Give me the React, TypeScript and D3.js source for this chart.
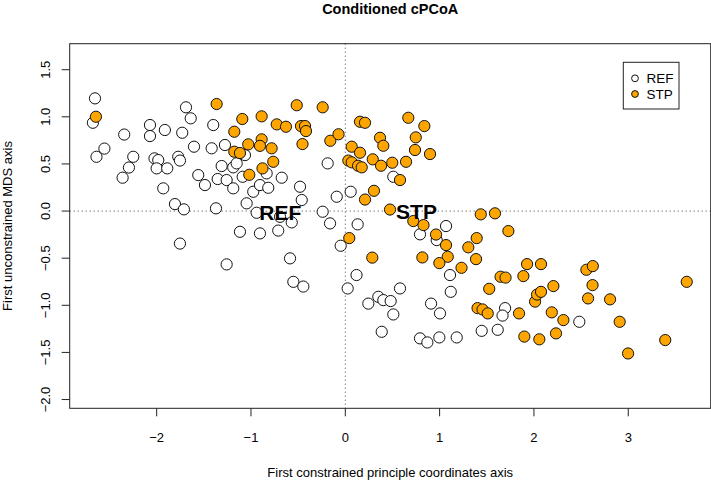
import React from 'react';
import * as d3 from 'd3';

// REF group (open circles)
const refX = [-2.654, -2.676, -2.638, -2.554, -2.344, -2.361, -2.294, -2.248, -2.071, -2.071,
  -1.913, -2.023, -1.983, -2.0, -1.888, -1.93, -1.806, -1.711, -1.771, -1.753,
  -1.729, -1.689, -1.639, -1.604, -1.559, -1.488, -1.371, -1.4, -1.417, -1.353,
  -1.311, -1.276, -1.258, -1.188, -1.188, -1.753, -1.258, -1.152, -1.088, -1.064,
  -1.117, -1.046, -0.976, -0.905, -0.817, -0.834, -0.674, -0.48, -0.462, -0.94,
  -0.692, -0.568, -0.905, -0.711, -0.586, -0.551, -0.445, -0.24, -0.162, -0.091,
  -0.187, -0.049, 0.025, 0.057, 0.131, 0.119, 0.509, 0.244, 0.35, 0.403,
  0.481, 0.509, 0.386, 0.58, 0.792, 1.068, 0.969, 1.11, 1.118, 0.909,
  1.004, 0.792, 0.87, 0.997, 1.181, 1.446, 1.616, 1.694, 1.667, 2.481];
const refY = [1.196, 0.937, 0.576, 0.663, 0.812, 0.354, 0.462, 0.576, 0.913, 0.796,
  0.86, 0.559, 0.541, 0.453, 0.453, 0.241, 0.074, 0.018, 0.576, 0.536,
  0.831, 1.101, 0.984, 0.683, 0.382, 0.276, 0.029, 0.913, 0.666, 0.34,
  0.478, 0.701, 0.329, 0.464, 0.241, -0.345, -0.566, 0.506, 0.364, 0.594,
  -0.22, 0.082, 0.205, 0.276, 0.247, 0.4, 0.354, 0.258, 0.117, -0.018,
  -0.061, -0.12, -0.237, -0.207, -0.502, -0.751, -0.801, -0.007, -0.131, 0.152,
  0.506, -0.368, -0.821, 0.205, -0.141, -0.679, 0.364, -0.982, -0.91, -0.945,
  -0.955, -1.097, -1.281, -0.821, -0.247, -0.159, -0.308, -0.679, -0.857, -0.982,
  -1.086, -1.351, -1.394, -1.341, -1.341, -1.271, -1.26, -1.03, -1.109, -1.175];

// STP group (orange circles)
const stpX = [-2.644, -1.364, -1.177, -1.092, -0.887, -0.727, -0.629, -0.515, -0.24, -0.47,
  -0.427, -0.417, -0.454, -0.159, -0.072, -0.887, -0.905, -1.029, -0.781, -1.177,
  -1.117, -0.764, -0.878, -1.018, 0.068, 0.032, 0.068, 0.156, 0.135, 0.209,
  0.668, 0.838, 0.368, 0.403, 0.747, 0.739, 0.898, 0.156, 0.174, 0.291,
  0.379, 0.498, 0.644, 0.58, 0.304, 0.209, 0.474, 0.721, 0.829, 0.962,
  1.068, 0.042, 0.286, 0.817, 1.086, 0.997, 1.232, 1.304, 1.393, 1.386,
  1.436, 1.587, 1.729, 1.927, 2.075, 1.646, 1.699, 1.888, 1.526, 2.206,
  2.012, 2.033, 2.075, 1.402, 1.455, 1.51, 1.842, 2.189, 2.312, 1.898,
  2.057, 2.234, 2.556, 2.624, 2.621, 2.574, 2.807, 2.909, 2.998, 3.392, 3.62];
const stpY = [1.001, 1.136, 0.842, 0.977, 1.005, 0.92, 0.895, 1.123, 1.101, 0.902,
  0.902, 0.849, 0.711, 0.746, 0.815, 0.761, 0.692, 0.708, 0.666, 0.63,
  0.616, 0.523, 0.453, 0.385, 0.683, 0.536, 0.517, 0.948, 0.481, 0.937,
  0.99, 0.902, 0.778, 0.693, 0.782, 0.648, 0.605, 0.619, 0.464, 0.549,
  0.481, 0.513, 0.523, 0.329, 0.215, 0.122, 0.016, -0.106, -0.149, -0.249,
  -0.361, -0.287, -0.494, -0.492, -0.485, -0.552, -0.602, -0.385, -0.287, -0.51,
  -0.035, -0.024, -0.212, -0.563, -0.563, -0.697, -0.706, -0.69, -0.825, -0.796,
  -0.961, -0.886, -0.857, -1.03, -1.044, -1.086, -1.086, -1.075, -1.157, -1.332,
  -1.361, -1.298, -0.623, -0.584, -0.786, -0.927, -0.937, -1.175, -1.511, -1.369, -0.751];

const groupNames = ['REF', 'STP'];
const groupFill = ['white', '#FFA500'];
const centroidX = [-0.69, 0.755];
const centroidY = [-0.01, 0.0];

const xTicks = [-2, -1, 0, 1, 2, 3];
const yTicks = [-2, -1.5, -1, -0.5, 0, 0.5, 1, 1.5];

const W = 711;
const H = 481;
const font = 'Liberation Sans, Arial, Helvetica, sans-serif';

const fmt = (v: number, digits: number) => v.toFixed(digits).replace('-', '\u2212');

export default function App() {
  const left = 69.7, right = 710.7, top = 43.7, bottom = 408.3;
  const x = d3.scaleLinear().domain([-2.922, 3.874]).range([left, right]);
  const y = d3.scaleLinear().domain([-2.093, 1.776]).range([bottom, top]);

  const ref = refX.map((v, i) => [v, refY[i]]);
  const stp = stpX.map((v, i) => [v, stpY[i]]);
  const midX = (left + right) / 2;
  const midY = (top + bottom) / 2;

  return (
    <svg width={W} height={H} style={{ position: 'absolute', left: 0, top: 0, background: 'white' }}
      fontFamily={font}>
      <text x={midX} y={14} textAnchor="middle" fontWeight="bold" fontSize={14.5}>Conditioned cPCoA</text>

      {/* zero lines */}
      <line x1={x(0)} x2={x(0)} y1={top} y2={bottom} stroke="#444" strokeDasharray="1 3" />
      <line x1={left} x2={right} y1={y(0)} y2={y(0)} stroke="#444" strokeDasharray="1 3" />

      {ref.map((d, i) => (
        <circle key={'r' + i} cx={x(d[0])} cy={y(d[1])} r={5.6} fill={groupFill[0]} stroke="#111" strokeWidth={1} />
      ))}
      {stp.map((d, i) => (
        <circle key={'s' + i} cx={x(d[0])} cy={y(d[1])} r={5.6} fill={groupFill[1]} stroke="#111" strokeWidth={1} />
      ))}

      {groupNames.map((g, i) => (
        <text key={g} x={x(centroidX[i])} y={y(centroidY[i]) + 7.5} textAnchor="middle"
          fontWeight="bold" fontSize={21}>{g}</text>
      ))}

      <rect x={left} y={top} width={right - left} height={bottom - top} fill="none" stroke="#222" strokeWidth={1} />

      {/* x axis */}
      {xTicks.map(t => (
        <g key={'x' + t}>
          <line x1={x(t)} x2={x(t)} y1={bottom} y2={bottom + 8} stroke="#222" />
          <text x={x(t)} y={442} textAnchor="middle" fontSize={13}>{fmt(t, 0)}</text>
        </g>
      ))}
      {/* y axis */}
      {yTicks.map(t => (
        <g key={'y' + t}>
          <line x1={left - 8} x2={left} y1={y(t)} y2={y(t)} stroke="#222" />
          <text transform={`translate(50,${y(t)}) rotate(-90)`} textAnchor="middle" fontSize={13}>{fmt(t, 1)}</text>
        </g>
      ))}

      <text x={midX} y={477} textAnchor="middle" fontSize={13}>First constrained principle coordinates axis</text>
      <text transform={`translate(12,${midY}) rotate(-90)`} textAnchor="middle" fontSize={13}>First unconstrained MDS axis</text>

      {/* legend */}
      <rect x={623.3} y={62.3} width={55.7} height={46.7} fill="white" stroke="#222" />
      {groupNames.map((g, i) => (
        <g key={'l' + g}>
          <circle cx={635} cy={78.3 + i * 15.7} r={3.4} fill={groupFill[i]} stroke="#111" />
          <text x={646.5} y={83.3 + i * 15.7} fontSize={13.5}>{g}</text>
        </g>
      ))}
    </svg>
  );
}
